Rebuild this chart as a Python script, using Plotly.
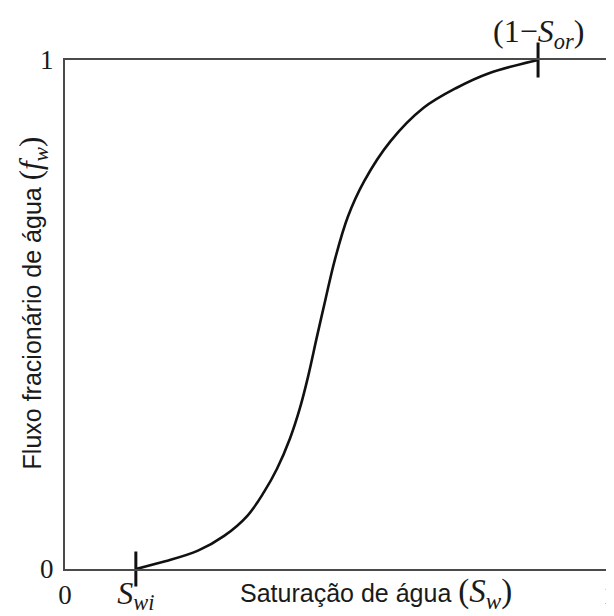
import plotly.graph_objects as go

# water saturation vs fractional flow
sw = [0.13, 0.184, 0.244, 0.292, 0.335, 0.365, 0.389, 0.413, 0.431, 0.446,
      0.462, 0.478, 0.495, 0.519, 0.549, 0.597, 0.658, 0.718, 0.778, 0.868]
fw = [0.0, 0.015, 0.036, 0.065, 0.105, 0.151, 0.197, 0.257, 0.316, 0.378,
      0.455, 0.530, 0.607, 0.692, 0.762, 0.840, 0.906, 0.945, 0.974, 1.0]

swi = 0.13
one_minus_sor = 0.868

x_ticks = [0, swi, 1]
x_ticktext = ["0", "<span style='font-size:32px'><i>S</i><sub><i>wi</i></sub></span>", "1"]
y_ticks = [0, 1]
y_ticktext = ["0", "1"]

sans = "Liberation Sans, Arial, sans-serif"
serif = "Liberation Serif, Times New Roman, serif"
ink = "#1a1a1a"

fig = go.Figure()

fig.add_trace(go.Scatter(
    x=sw, y=fw, mode="lines",
    line=dict(color="#111111", width=2.6, shape="spline", smoothing=1.0),
    hoverinfo="skip", showlegend=False,
))

# small vertical markers for Swi on the bottom edge and 1-Sor on the top edge
fig.add_trace(go.Scatter(
    x=[swi, one_minus_sor], y=[0, 1], mode="markers",
    marker=dict(symbol="line-ns-open", size=25, color="#111111",
                line=dict(color="#111111", width=3)),
    cliponaxis=False, hoverinfo="skip", showlegend=False,
))

fig.update_layout(
    width=614, height=616,
    margin=dict(l=57, r=5, t=52, b=55),
    plot_bgcolor="white", paper_bgcolor="white",
    showlegend=False,
    xaxis=dict(
        range=[0, 1], showgrid=False, zeroline=False,
        showline=True, mirror=True, linecolor="#4a4a4a", linewidth=2.2,
        tickmode="array", tickvals=x_ticks, ticktext=x_ticktext,
        ticks="", tickfont=dict(family=serif, size=27, color=ink),
    ),
    yaxis=dict(
        range=[0, 1], showgrid=False, zeroline=False,
        showline=True, mirror=True, linecolor="#4a4a4a", linewidth=2.2,
        tickmode="array", tickvals=y_ticks, ticktext=y_ticktext,
        ticks="", ticklabelstandoff=4,
        tickfont=dict(family=serif, size=27, color=ink),
    ),
)

fig.add_annotation(
    xref="x", yref="paper", x=one_minus_sor, y=1, yshift=4,
    xanchor="center", yanchor="bottom", showarrow=False,
    text="(1\u2212<i>S</i><sub><i>or</i></sub>)",
    font=dict(family=serif, size=32, color=ink),
)

fig.add_annotation(
    xref="paper", yref="paper", x=(232 - 57) / 552, y=(561 - 585) / 509,
    xanchor="left", yanchor="middle", showarrow=False,
    text="Saturação de água <span style='font-family:Liberation Serif;font-size:33px'>"
         "(<i>S</i><sub><i>w</i></sub>)</span>",
    font=dict(family=sans, size=25, color=ink),
)

fig.add_annotation(
    xref="paper", yref="paper", x=(25 - 57) / 552, y=(561 - 295) / 509,
    xanchor="center", yanchor="middle", textangle=-90, showarrow=False,
    text="Fluxo fracionário de água <span style='font-family:Liberation Serif;font-size:31px'>"
         "(<i>f</i><sub><i>w</i></sub>)</span>",
    font=dict(family=sans, size=25, color=ink),
)

fig.write_html("out.html")
